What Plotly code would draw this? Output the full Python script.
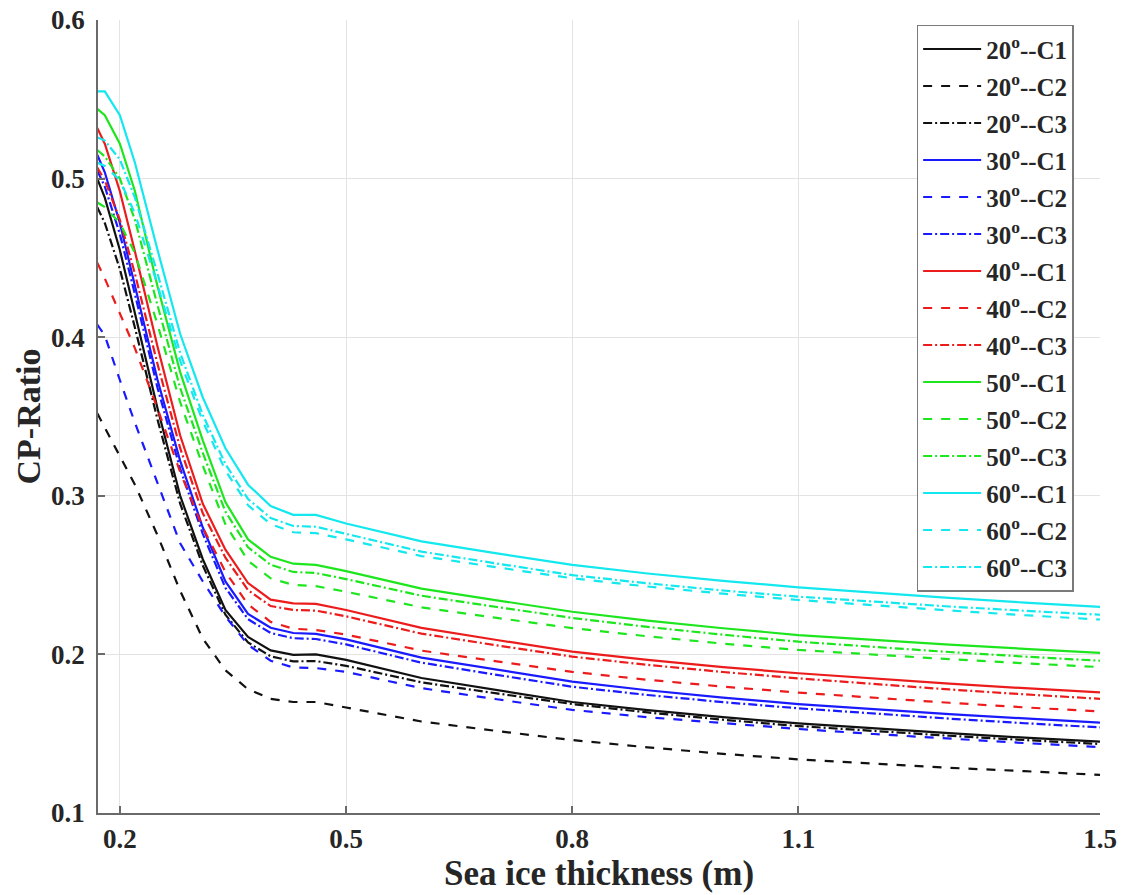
import plotly.graph_objects as go

# Sea ice thickness (m)
thickness = [0.17, 0.18, 0.20, 0.22, 0.25, 0.28, 0.31, 0.34, 0.37, 0.40, 0.43, 0.46,
             0.50, 0.60, 0.70, 0.80, 0.90, 1.00, 1.10, 1.20, 1.30, 1.40, 1.50]

# CP-Ratio per incidence angle (20..60 deg) and case (C1, C2, C3)
cp_20_c1 = [0.500, 0.488, 0.455, 0.415, 0.355, 0.300, 0.260, 0.228, 0.2110, 0.2025, 0.1997, 0.2000,
            0.1965, 0.1851, 0.1774, 0.1700, 0.1649, 0.1604, 0.1565, 0.1533, 0.1503, 0.1475, 0.1450]
cp_20_c2 = [0.352, 0.343, 0.326, 0.307, 0.275, 0.240, 0.210, 0.190, 0.1780, 0.1720, 0.1700, 0.1700,
            0.1665, 0.1577, 0.1517, 0.1460, 0.1414, 0.1373, 0.1338, 0.1311, 0.1285, 0.1264, 0.1240]
cp_20_c3 = [0.482, 0.472, 0.443, 0.406, 0.348, 0.295, 0.256, 0.225, 0.2075, 0.1988, 0.1956, 0.1958,
            0.1928, 0.1824, 0.1754, 0.1687, 0.1634, 0.1588, 0.1548, 0.1516, 0.1487, 0.1460, 0.1435]

cp_30_c1 = [0.515, 0.504, 0.472, 0.433, 0.373, 0.322, 0.280, 0.246, 0.2255, 0.2168, 0.2135, 0.2129,
            0.2095, 0.1980, 0.1903, 0.1828, 0.1774, 0.1728, 0.1687, 0.1654, 0.1624, 0.1596, 0.1570]
cp_30_c2 = [0.408, 0.401, 0.373, 0.346, 0.308, 0.270, 0.246, 0.224, 0.2060, 0.1960, 0.1918, 0.1914,
            0.1890, 0.1787, 0.1717, 0.1650, 0.1604, 0.1565, 0.1530, 0.1498, 0.1468, 0.1441, 0.1416]
cp_30_c3 = [0.505, 0.495, 0.465, 0.427, 0.368, 0.317, 0.276, 0.242, 0.2222, 0.2135, 0.2102, 0.2097,
            0.2063, 0.1948, 0.1871, 0.1796, 0.1744, 0.1699, 0.1660, 0.1626, 0.1595, 0.1566, 0.1540]

cp_40_c1 = [0.532, 0.522, 0.492, 0.454, 0.394, 0.338, 0.295, 0.266, 0.2450, 0.2345, 0.2322, 0.2318,
            0.2280, 0.2167, 0.2091, 0.2017, 0.1965, 0.1920, 0.1881, 0.1847, 0.1816, 0.1787, 0.1760]
cp_40_c2 = [0.447, 0.437, 0.415, 0.393, 0.355, 0.315, 0.280, 0.252, 0.2315, 0.2205, 0.2162, 0.2154,
            0.2125, 0.2024, 0.1956, 0.1890, 0.1840, 0.1797, 0.1759, 0.1726, 0.1695, 0.1666, 0.1640]
cp_40_c3 = [0.507, 0.499, 0.474, 0.440, 0.383, 0.330, 0.289, 0.261, 0.2405, 0.2305, 0.2280, 0.2276,
            0.2240, 0.2131, 0.2057, 0.1986, 0.1934, 0.1889, 0.1849, 0.1813, 0.1779, 0.1748, 0.1720]

cp_50_c1 = [0.544, 0.540, 0.522, 0.492, 0.432, 0.378, 0.335, 0.296, 0.2725, 0.2615, 0.2572, 0.2564,
            0.2525, 0.2415, 0.2341, 0.2269, 0.2213, 0.2165, 0.2122, 0.2091, 0.2062, 0.2035, 0.2010]
cp_50_c2 = [0.485, 0.482, 0.472, 0.453, 0.408, 0.359, 0.319, 0.282, 0.2590, 0.2480, 0.2438, 0.2430,
            0.2395, 0.2297, 0.2230, 0.2166, 0.2114, 0.2068, 0.2028, 0.1998, 0.1970, 0.1944, 0.1920]
cp_50_c3 = [0.518, 0.514, 0.500, 0.474, 0.420, 0.368, 0.327, 0.290, 0.2675, 0.2565, 0.2520, 0.2513,
            0.2475, 0.2370, 0.2299, 0.2230, 0.2173, 0.2124, 0.2080, 0.2046, 0.2015, 0.1986, 0.1960]

cp_60_c1 = [0.555, 0.555, 0.540, 0.510, 0.455, 0.402, 0.362, 0.330, 0.3070, 0.2935, 0.2880, 0.2880,
            0.2825, 0.2713, 0.2637, 0.2564, 0.2510, 0.2464, 0.2423, 0.2389, 0.2357, 0.2327, 0.2300]
cp_60_c2 = [0.510, 0.508, 0.499, 0.478, 0.433, 0.385, 0.347, 0.316, 0.2940, 0.2822, 0.2770, 0.2765,
            0.2725, 0.2620, 0.2549, 0.2480, 0.2428, 0.2383, 0.2343, 0.2309, 0.2277, 0.2247, 0.2220]
cp_60_c3 = [0.526, 0.524, 0.512, 0.488, 0.440, 0.390, 0.351, 0.320, 0.2980, 0.2860, 0.2810, 0.2805,
            0.2760, 0.2648, 0.2573, 0.2500, 0.2448, 0.2403, 0.2364, 0.2332, 0.2302, 0.2275, 0.2250]

angles = ["20", "30", "40", "50", "60"]
cases = ["C1", "C2", "C3"]
x_ticks = [0.2, 0.5, 0.8, 1.1, 1.5]
y_ticks = [0.1, 0.2, 0.3, 0.4, 0.5, 0.6]

series = {
    ("20", "C1"): cp_20_c1, ("20", "C2"): cp_20_c2, ("20", "C3"): cp_20_c3,
    ("30", "C1"): cp_30_c1, ("30", "C2"): cp_30_c2, ("30", "C3"): cp_30_c3,
    ("40", "C1"): cp_40_c1, ("40", "C2"): cp_40_c2, ("40", "C3"): cp_40_c3,
    ("50", "C1"): cp_50_c1, ("50", "C2"): cp_50_c2, ("50", "C3"): cp_50_c3,
    ("60", "C1"): cp_60_c1, ("60", "C2"): cp_60_c2, ("60", "C3"): cp_60_c3,
}

angle_colors = {"20": "#111111", "30": "#1a1aff", "40": "#ec1c1c",
                "50": "#1ee61e", "60": "#12e8ee"}
case_dash = {"C1": "solid", "C2": "9px,9px", "C3": "9px,3px,2px,3px"}

FONT = "Liberation Serif, Times New Roman, serif"
TXT = "#262626"

fig = go.Figure()
for a in angles:
    for c in cases:
        fig.add_trace(go.Scatter(
            x=thickness, y=series[(a, c)], mode="lines",
            name=f"<b>{a}<sup>o</sup>--{c}</b>", legendgroup=f"{a}{c}",
            line=dict(color=angle_colors[a], width=2.2, dash=case_dash[c]),
        ))

axis_common = dict(
    showgrid=True, gridcolor="#e3e3e3", gridwidth=1,
    showline=True, linecolor="#6a6a6a", linewidth=1.5,
    ticks="inside", ticklen=7, tickcolor="#6a6a6a", tickwidth=1.5,
    zeroline=False, automargin=False,
    tickfont=dict(family=FONT, size=27, color=TXT),
)

fig.update_xaxes(
    range=[0.171, 1.5], tickmode="array", tickvals=x_ticks,
    ticktext=[f"<b>{v:g}</b>" for v in x_ticks],
    title=dict(text="<b>Sea ice thickness (m)</b>", font=dict(family=FONT, size=35, color=TXT), standoff=0),
    ticklabelstandoff=1,
    **axis_common,
)
fig.update_yaxes(
    range=[0.1, 0.6], tickmode="array", tickvals=y_ticks,
    ticktext=[f"<b>{v:.1f}</b>" for v in y_ticks],
    title=dict(text="<b>CP-Ratio</b>", font=dict(family=FONT, size=34, color=TXT), standoff=0),
    ticklabelstandoff=6,
    **axis_common,
)

fig.update_layout(
    width=1126, height=895,
    margin=dict(l=98, r=26, t=20, b=82),
    paper_bgcolor="white", plot_bgcolor="white",
    showlegend=True,
    legend=dict(
        x=0.817, y=0.994, xanchor="left", yanchor="top",
        bgcolor="white", bordercolor="#7a7a7a", borderwidth=1.5,
        font=dict(family=FONT, size=25, color=TXT),
        itemwidth=58, tracegroupgap=1.5,
        traceorder="grouped",
    ),
)

fig.write_html("out.html")
